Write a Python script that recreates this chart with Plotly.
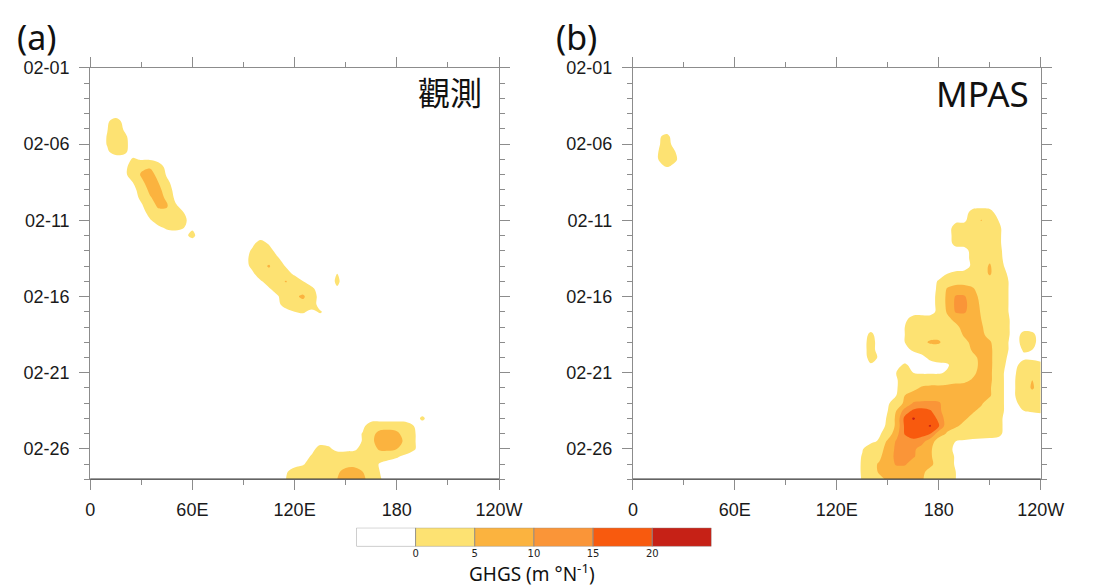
import numpy as np
import plotly.graph_objects as go

# ---------------- grid & styling data ----------------
LONS = list(range(0, 241, 5))            # 0 .. 240 (120W)
TIMES = [k * 0.5 for k in range(55)]     # days since 02-01 (0 .. 27)
BACKGROUND = -2.0

LEVELS = [0, 5, 10, 15, 20]
BAND_COLORS = ["#FFFFFF", "#FDE272", "#FBB33F", "#FA9538", "#F85A0E", "#C62116"]

X_TICKS = [0, 60, 120, 180, 240]
X_TICK_TEXT = ["0", "60E", "120E", "180", "120W"]
X_MINOR = [30, 90, 150, 210]
Y_TICKS = [0, 5, 10, 15, 20, 25]
Y_TICK_TEXT = ["02-01", "02-06", "02-11", "02-16", "02-21", "02-26"]
Y_MINOR = [1, 2, 3, 4, 6, 7, 8, 9, 11, 12, 13, 14, 16, 17, 18, 19, 21, 22, 23, 24, 26, 27]

# rows: (day offset, first longitude, GHGS values every 5 degrees)
OBS_ROWS = [
    (3.5, 10, [-0.5, 1.5, -1]),
    (4.0, 10, [-0.2, 3, -0.5]),
    (4.5, 10, [0.2, 3, 1]),
    (5.0, 10, [0.2, 3, 1.5]),
    (5.5, 10, [-0.5, 1.5, 1]),
    (6.0, 25, [0.5, -0.3, -0.3, -1.5]),
    (6.5, 20, [-1.5, 2.5, 4, 4.5, 2.5, -1.5]),
    (7.0, 20, [-1, 2, 5.5, 7, 3.5, -0.5]),
    (7.5, 25, [0, 4, 7, 5, 1]),
    (8.0, 25, [-1.5, 2, 6, 6.5, 2.5, -1.5]),
    (8.5, 30, [1, 4.5, 7, 4, -1]),
    (9.0, 30, [-0.5, 2.5, 6, 5.5, 0.5]),
    (9.5, 35, [1.5, 3.5, 4, 3, 0]),
    (10.0, 35, [-0.5, 2, 3.5, 3.5, 1]),
    (10.5, 40, [-1, 0.5, 1, 0, -0.5]),
    (11.0, 55, [-1, 1]),
    (11.5, 95, [-1, 1.5, -0.5]),
    (12.0, 95, [0.5, 4, 1.5, -1.5]),
    (12.5, 95, [1.5, 4, 3.5, 0.5]),
    (13.0, 95, [1, 4, 5.3, 3, -0.5]),
    (13.5, 95, [-1, 2.5, 4, 4, 2, -1]),
    (13.5, 145, [0]),
    (14.0, 100, [-0.5, 2, 4, 5.2, 3, 0]),
    (14.0, 145, [0.8]),
    (14.5, 105, [-0.5, 2, 4, 4, 3.5, 1]),
    (14.5, 145, [-0.5]),
    (15.0, 110, [-0.5, 3, 4.5, 5.5, 3]),
    (15.5, 110, [-1, 2, 3.5, 4, 2.5]),
    (16.0, 115, [-1.5, 0, 0.5, -1]),
    (16.0, 135, [0.5]),
    (23.0, 195, [0.8]),
    (23.5, 160, [-1, 2.5, 3, 3, 3, 2.5, 0]),
    (24.0, 160, [0.3, 3.5, 6.5, 7, 6, 3, 0.5]),
    (24.5, 160, [0.3, 4, 7, 7.5, 7, 4, 0.5]),
    (25.0, 130, [-1.5, 2, 1, -1.5, -1.5, -1, 2, 3.5, 5.5, 6, 5, 3, 0.5]),
    (25.5, 125, [-2, 0.5, 3.5, 3.5, 3, 3, 3, 3.5, 3.5, 3, 2, 0.5, -1]),
    (26.0, 120, [-1.5, -0.5, 2.5, 4, 4, 4, 4, 4, 4, 3, -0.5]),
    (26.5, 115, [-0.5, 2, 3, 4, 4, 4, 4.5, 6, 6.5, 5, 3, 0]),
    (27.0, 115, [0, 2.5, 3, 4, 4, 4, 5, 7, 7.5, 6, 3, 0.5]),
]

MPAS_ROWS = [
    (4.5, 15, [-0.5, 1]),
    (5.0, 15, [-0.5, 2]),
    (5.5, 15, [0, 2.5, 0]),
    (6.0, 15, [0, 2.5, 0.5]),
    (6.5, 15, [-1, 0, -1]),
    (9.5, 200, [2, 3, 2]),
    (10.0, 190, [-1, -1, 3, 5.2, 3, 0]),
    (10.5, 190, [2, 2.5, 3, 3, 3, 1]),
    (11.0, 190, [2, 2.5, 3, 3, 3, 1]),
    (11.5, 190, [1.5, 2, 3, 3, 3, 1]),
    (12.0, 200, [2, 3, 3, 1.5]),
    (12.5, 200, [1.5, 3, 4, 2]),
    (13.0, 200, [1, 3, 5.5, 2, -1]),
    (13.5, 185, [0, 1, 1.5, 2, 3, 5.5, 2.5, 0]),
    (14.0, 180, [0.5, 2, 3, 3, 3, 3, 3, 2, 0.5]),
    (14.5, 180, [1, 5.5, 7, 7, 5.5, 3, 2.5, 2, 0.5]),
    (15.0, 180, [1.5, 6, 10.5, 10.5, 7, 3.5, 3, 2, 0.5]),
    (15.5, 180, [1.5, 6, 11, 11, 8, 4, 3, 2, 0.5]),
    (16.0, 180, [1.5, 5.5, 10.5, 10.5, 8, 4.5, 3, 2, 0.5]),
    (16.5, 160, [-1, 2, 2.5, 2.5, 2.5, 4, 6, 8, 7, 5, 3, 2, 1]),
    (17.0, 160, [0, 3, 3, 3, 3, 3, 4, 6.5, 7, 5.5, 3, 2.5, 1]),
    (17.5, 140, [1, -2, -2, -2, 0, 3, 3, 3.5, 3.5, 3, 3, 5.5, 7, 6, 3.5, 2.5, 1, -2, 1.5, 1]),
    (18.0, 140, [2, -2, -2, -2, 0, 3, 4, 5.5, 5.5, 3, 3, 4, 6, 6.5, 5.5, 2.5, 0.5, -2, 2, 1.5]),
    (18.5, 140, [2, -2, -2, -2, -1, 0.5, 1.5, 3, 3, 2, 2.5, 3, 5.5, 7, 6, 2.5, 0.5, -2, 0.5, 0]),
    (19.0, 140, [1.5, -0.5, -2, -2, -2, -2, -1, 1, 2, 2, 2.5, 3, 4, 6, 6, 2.5, 0, -2, -1, -1]),
    (19.5, 140, [-0.5, -2, -2, -1, 0.5, -1, -1.5, -1.5, -1, -0.5, 2, 3, 3.5, 6, 6, 2.5, -0.5, -1, 2, 2, 1.5]),
    (20.0, 155, [0, 2, 0, -0.5, -0.5, -0.5, 0.5, 2.5, 3, 4, 6.5, 6, 2, -1, -0.3, 3, 3.5, 2]),
    (20.5, 155, [-0.5, 2.5, 3, 3, 3, 3, 3, 3.5, 4, 5.5, 7, 6, 2, -1, 0, 3, 5, 3]),
    (21.0, 155, [-0.5, 3, 4, 5.5, 6, 6, 6.5, 7, 7, 7.5, 7, 5.5, 2, -1, 0, 3, 5.5, 3]),
    (21.5, 155, [0, 5, 6.5, 7, 7.5, 8, 8, 8, 7.5, 7, 6.5, 5.5, 2, -1, 0, 3, 3, 2]),
    (22.0, 150, [-0.5, 2, 6, 10.5, 11, 11, 10.5, 8, 7, 6.5, 6, 5.5, 3, 2, -1, -1, 2.5, 2.5, 2]),
    (22.5, 150, [0, 5, 12, 16, 17, 15.5, 11, 7.5, 6.5, 6, 5.5, 4, 2.5, 2, -1, -2, 0, 0.5, 1]),
    (23.0, 150, [0.5, 6, 16.5, 20.5, 18, 17.5, 14, 7, 6, 5.5, 4, 3, 2.5, 2]),
    (23.5, 150, [1, 6, 16, 18, 18, 20.5, 15.5, 6.5, 5.5, 4, 3, 2.5, 2.5, 2]),
    (24.0, 145, [-0.5, 2, 8, 15.5, 17, 17, 15, 7, 4.5, 3, 2.5, 2.5, 2.5, 2, 1.5]),
    (24.5, 140, [-1, 0.5, 6, 10.5, 12, 14, 12, 7, 3, 2, 0, -0.5, -1, -1.5, -1.5]),
    (25.0, 135, [-0.3, 2.5, 3, 7, 11, 11, 11, 8, 5.5, 3, 1.5, -1]),
    (25.5, 135, [0.3, 3, 4, 8, 11, 11, 10.5, 8, 5.5, 3, 2, -0.5]),
    (26.0, 135, [0.5, 3.5, 5.5, 7.5, 10.5, 10.5, 8, 7, 6, 3, 2, -0.5]),
    (26.5, 135, [0.5, 3, 5.5, 7, 7.5, 7.5, 7, 6, 3.5, 2.5, 2, 0]),
    (27.0, 135, [0.3, 3, 4, 5.5, 6, 6, 6, 5.5, 3, 2.5, 1.5, 0]),
]


def build_grid(rows):
    z = np.full((len(TIMES), len(LONS)), BACKGROUND)
    for t, lon0, vals in rows:
        i = int(round(t * 2))
        j = lon0 // 5
        z[i, j:j + len(vals)] = vals
    return z


def contour(z, xa, ya):
    return go.Contour(
        x=LONS, y=TIMES, z=z, xaxis=xa, yaxis=ya,
        contours=dict(start=LEVELS[0], end=LEVELS[-1], size=5,
                      coloring="fill", showlines=False),
        colorscale=[[k / 5, c] for k, c in enumerate(BAND_COLORS)],
        line=dict(width=0, smoothing=1.0),
        showscale=False, hoverinfo="skip",
    )


W, H = 1093, 588
AX_COL = "#8c8c8c"
TICK_FONT = dict(family="Liberation Sans, Arial, sans-serif", size=18, color="#1a1a1a")

fig = go.Figure()
fig.add_trace(contour(build_grid(OBS_ROWS), "x", "y"))
fig.add_trace(contour(build_grid(MPAS_ROWS), "x2", "y2"))

# colour bar drawn as a bar chart of the level bands
edges = [LEVELS[0] - 5] + LEVELS + [LEVELS[-1] + 5]
fig.add_trace(go.Bar(
    x=[edges[k + 1] - edges[k] for k in range(len(edges) - 1)],
    base=edges[:-1], y=[0] * (len(edges) - 1), orientation="h",
    marker=dict(color=BAND_COLORS, line=dict(color="#8a8a8a", width=0.8)),
    width=1, xaxis="x3", yaxis="y3", hoverinfo="skip", showlegend=False,
))


def xax(domain, anchor):
    return dict(domain=domain, anchor=anchor, range=[0, 240],
                tickmode="array", tickvals=X_TICKS, ticktext=X_TICK_TEXT,
                showline=True, linecolor=AX_COL, linewidth=1, mirror="ticks",
                ticks="outside", ticklen=10, tickwidth=1, tickcolor=AX_COL,
                ticklabelstandoff=4,
                minor=dict(tickvals=X_MINOR, ticks="outside", ticklen=5,
                           tickcolor=AX_COL, showgrid=False),
                showgrid=False, zeroline=False, tickfont=TICK_FONT)


def yax(domain, anchor):
    return dict(domain=domain, anchor=anchor, range=[27, 0],
                tickmode="array", tickvals=Y_TICKS, ticktext=Y_TICK_TEXT,
                showline=True, linecolor=AX_COL, linewidth=1, mirror="ticks",
                ticks="outside", ticklen=10, tickwidth=1, tickcolor=AX_COL,
                ticklabelstandoff=6,
                minor=dict(tickvals=Y_MINOR, ticks="outside", ticklen=5,
                           tickcolor=AX_COL, showgrid=False),
                showgrid=False, zeroline=False, tickfont=TICK_FONT)


ydom = [1 - 477.5 / H, 1 - 59 / H]
fig.update_layout(
    width=W, height=H, margin=dict(l=0, r=0, t=0, b=0),
    paper_bgcolor="white", plot_bgcolor="white", showlegend=False,
    xaxis=xax([87.5 / W, 507.5 / W], "y"),
    yaxis=yax(ydom, "x"),
    xaxis2=xax([645 / W, 1064 / W], "y2"),
    yaxis2=yax(ydom, "x2"),
    xaxis3=dict(domain=[361 / W, 725.7 / W], anchor="y3", range=[-5, 25],
                tickmode="array", tickvals=LEVELS, ticks="", showline=False,
                showgrid=False, zeroline=False, ticklabelstandoff=0,
                tickfont=dict(family="DejaVu Sans", size=10, color="#222")),
    yaxis3=dict(domain=[1 - 545.7 / H, 1 - 526.7 / H], anchor="x3",
                range=[-0.5, 0.5], visible=False),
)

for xr, yr in (("x", "y"), ("x2", "y2")):
    fig.add_shape(type="line", xref=f"{xr} domain", yref=yr, x0=0, x1=1,
                  y0=27, y1=27, line=dict(color="#3a3a3a", width=2))

ann_font = "Noto Sans, Open Sans, sans-serif"
fig.add_annotation(x=10 / W, y=1 - 27 / H, xref="paper", yref="paper",
                   text="(a)", showarrow=False, xanchor="left", yanchor="middle",
                   font=dict(family=ann_font, size=34, color="#111"))
fig.add_annotation(x=564 / W, y=1 - 27 / H, xref="paper", yref="paper",
                   text="(b)", showarrow=False, xanchor="left", yanchor="middle",
                   font=dict(family=ann_font, size=34, color="#111"))
fig.add_annotation(x=492 / W, y=1 - 82 / H, xref="paper", yref="paper",
                   text="觀測", showarrow=False, xanchor="right", yanchor="middle",
                   font=dict(family="Noto Sans CJK TC", size=32, color="#111"))
fig.add_annotation(x=1054 / W, y=1 - 85 / H, xref="paper", yref="paper",
                   text="MPAS", showarrow=False, xanchor="right", yanchor="middle",
                   font=dict(family=ann_font, size=35, color="#111"))
fig.add_annotation(x=541.5 / W, y=0, xref="paper", yref="paper",
                   text="GHGS (m °N<sup>-1</sup>)", showarrow=False,
                   xanchor="center", yanchor="bottom", borderpad=0,
                   font=dict(family=ann_font, size=19, color="#111"))

fig.write_html("out.html")
